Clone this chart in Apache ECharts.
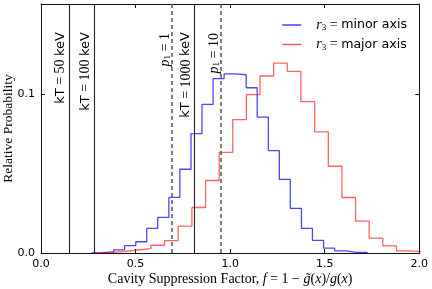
<!DOCTYPE html>
<html>
<head>
<meta charset="utf-8">
<script src="https://cdn.jsdelivr.net/npm/echarts@6/dist/echarts.min.js"></script>
<style>
html,body{margin:0;padding:0;background:#fff;}
#c{width:432px;height:289px;}
</style>
</head>
<body>
<div id="c"></div>
<script>
// ---- data ----
const blueEdges = [0.267,0.325,0.384,0.442,0.501,0.559,0.617,0.676,0.734,0.793,0.851,0.910,0.968,1.026,1.085,1.143,1.202,1.260,1.318,1.377,1.435,1.494,1.552,1.610,1.669,1.727];
const blueValues = [0.0002,0.0007,0.0020,0.0047,0.0071,0.0155,0.0225,0.0351,0.0528,0.0753,0.0937,0.1099,0.1130,0.1124,0.1042,0.0857,0.0645,0.0464,0.0281,0.0155,0.0079,0.0031,0.0014,0.0004,0.0003];
const redEdges = [0.293,0.365,0.437,0.509,0.581,0.653,0.725,0.798,0.870,0.942,1.014,1.086,1.158,1.230,1.302,1.374,1.447,1.519,1.591,1.663,1.735,1.807,1.879,1.951,2.023];
const redValues = [0.0004,0.0009,0.0019,0.0028,0.0049,0.0078,0.0169,0.0287,0.0457,0.0635,0.0841,0.0998,0.1116,0.1197,0.1145,0.0954,0.0764,0.0547,0.0350,0.0201,0.0094,0.0045,0.0014,0.0008];
const kTValues = [0.148, 0.280, 0.811];
const kTLabels = ['50', '100', '1000'];
const p1Values = [0.690, 0.949];
const p1Labels = ['1', '10'];
const xTicks = [0.0, 0.5, 1.0, 1.5, 2.0];
const yTicks = [0.0, 0.1];
const xMin = 0, xMax = 2, yMin = 0, yMax = 0.157;

function stepPoints(edges, vals) {
  const pts = [[edges[0], 0]];
  for (let i = 0; i < vals.length; i++) {
    pts.push([edges[i], vals[i]]);
    pts.push([edges[i + 1], vals[i]]);
  }
  pts.push([edges[vals.length], 0]);
  return pts;
}

const chart = echarts.init(document.getElementById('c'), null, {renderer: 'canvas'});
const serif = 'Liberation Serif';
const sans = 'DejaVu Sans';
const axisCol = '#111';

const option = {
  animation: false,
  backgroundColor: '#fff',
  grid: {left: 41, right: 12.7, top: 4, bottom: 36, containLabel: false, outerBoundsMode: 'none'},
  legend: {
    orient: 'vertical', right: 20, top: 13,
    itemWidth: 19, itemHeight: 14, itemGap: 5,
    icon: 'path://M0,0 L19,0 L19,1.4 L0,1.4 Z',
    data: ['minor', 'major'],
    formatter: function (n) {
      return '{i|r}{s|3}{m| = }{t|' + (n === 'minor' ? 'minor axis' : 'major axis') + '}';
    },
    textStyle: {
      padding: [0, 0, 0, 10],
      rich: {
        i: {fontFamily: serif, fontStyle: 'italic', fontSize: 14, color: '#000'},
        s: {fontFamily: serif, fontSize: 9, color: '#000', padding: [6, 0, 0, 0]},
        m: {fontFamily: serif, fontSize: 14, color: '#000'},
        t: {fontFamily: sans, fontSize: 12.6, color: '#000'}
      }
    }
  },
  xAxis: [{
    type: 'value', min: xMin, max: xMax, interval: 0.5,
    name: '{n|Cavity Suppression Factor, }{i|f}{n| = 1 \u2212 }{i|g\u0303}{n|(}{i|x}{n|)/}{i|g}{n|(}{i|x}{n|)}',
    nameLocation: 'middle', nameGap: 19, nameMoveOverlap: false,
    nameTextStyle: {
      rich: {
        n: {fontFamily: serif, fontSize: 14, color: '#000'},
        i: {fontFamily: serif, fontSize: 14, fontStyle: 'italic', color: '#000'}
      }
    },
    axisLine: {show: true, lineStyle: {color: axisCol, width: 1}},
    axisTick: {show: true, inside: true, length: 4, lineStyle: {color: axisCol}},
    axisLabel: {fontFamily: sans, fontSize: 11, color: '#000', margin: 6,
      formatter: v => xTicks.some(t => Math.abs(t - v) < 1e-9) ? v.toFixed(1) : ''},
    splitLine: {show: false}
  }, {
    type: 'value', min: xMin, max: xMax, interval: 0.5, position: 'top',
    axisLine: {show: true, onZero: false, lineStyle: {color: axisCol, width: 1}},
    axisTick: {show: true, inside: true, length: 4, lineStyle: {color: axisCol}},
    axisLabel: {show: false}, splitLine: {show: false}
  }],
  yAxis: [{
    type: 'value', min: yMin, max: yMax, interval: 0.1,
    name: 'Relative Probability', nameLocation: 'middle', nameGap: 26, nameMoveOverlap: false,
    nameTextStyle: {fontFamily: serif, fontSize: 13.5, color: '#000'},
    axisLine: {show: true, lineStyle: {color: axisCol, width: 1}},
    axisTick: {show: true, inside: true, length: 4, lineStyle: {color: axisCol}},
    axisLabel: {fontFamily: sans, fontSize: 11, color: '#000', margin: 6,
      formatter: v => yTicks.some(t => Math.abs(t - v) < 1e-9) ? v.toFixed(1) : ''},
    splitLine: {show: false}
  }, {
    type: 'value', min: yMin, max: yMax, interval: 0.1, position: 'right',
    axisLine: {show: true, onZero: false, lineStyle: {color: axisCol, width: 1}},
    axisTick: {show: true, inside: true, length: 4, lineStyle: {color: axisCol}},
    axisLabel: {show: false}, splitLine: {show: false}
  }],
  series: [
    {
      name: 'refs', type: 'line', data: [], silent: true,
      markLine: {
        silent: true, symbol: ['none', 'none'], animation: false,
        label: {show: false},
        data: kTValues.map(v => ({xAxis: v, lineStyle: {color: '#222', width: 1.1, type: 'solid'}}))
          .concat(p1Values.map(v => ({xAxis: v, lineStyle: {color: '#555', width: 1.5, type: [4, 3]}})))
      }
    },
    {
      name: 'minor', type: 'line', data: stepPoints(blueEdges, blueValues),
      showSymbol: false, symbol: 'none', clip: true, z: 3,
      lineStyle: {color: 'rgba(0,0,255,0.72)', width: 1.3},
      itemStyle: {color: 'rgba(0,0,255,0.8)'}
    },
    {
      name: 'major', type: 'line', data: stepPoints(redEdges, redValues),
      showSymbol: false, symbol: 'none', clip: true, z: 3,
      lineStyle: {color: 'rgba(255,0,0,0.62)', width: 1.3},
      itemStyle: {color: 'rgba(255,0,0,0.7)'}
    }
  ]
};
chart.setOption(option);

// rotated text annotations placed through the axis scale
const labelTop = 32;
const graphics = [];
kTValues.forEach((v, i) => {
  const px = chart.convertToPixel({xAxisIndex: 0}, v);
  graphics.push({
    type: 'text', x: px - 8.3, y: labelTop, rotation: Math.PI / 2, silent: true,
    style: {
      text: '{s|kT}{m| = ' + kTLabels[i] + ' }{s|keV}',
      align: 'right', verticalAlign: 'middle',
      rich: {
        s: {fontFamily: sans, fontSize: 13, fill: '#000'},
        m: {fontFamily: serif, fontSize: 14, fill: '#000'}
      }
    }
  });
});
p1Values.forEach((v, i) => {
  const px = chart.convertToPixel({xAxisIndex: 0}, v);
  graphics.push({
    type: 'text', x: px - 6.3, y: labelTop + 1, rotation: Math.PI / 2, silent: true,
    style: {
      text: '{i|p}{s|1}{m| = ' + p1Labels[i] + '}',
      align: 'right', verticalAlign: 'middle',
      rich: {
        i: {fontFamily: serif, fontStyle: 'italic', fontSize: 14, fill: '#000'},
        s: {fontFamily: serif, fontSize: 9, fill: '#000', padding: [5, 0, 0, 0]},
        m: {fontFamily: serif, fontSize: 14, fill: '#000'}
      }
    }
  });
});
chart.setOption({graphic: graphics});
</script>
</body>
</html>
